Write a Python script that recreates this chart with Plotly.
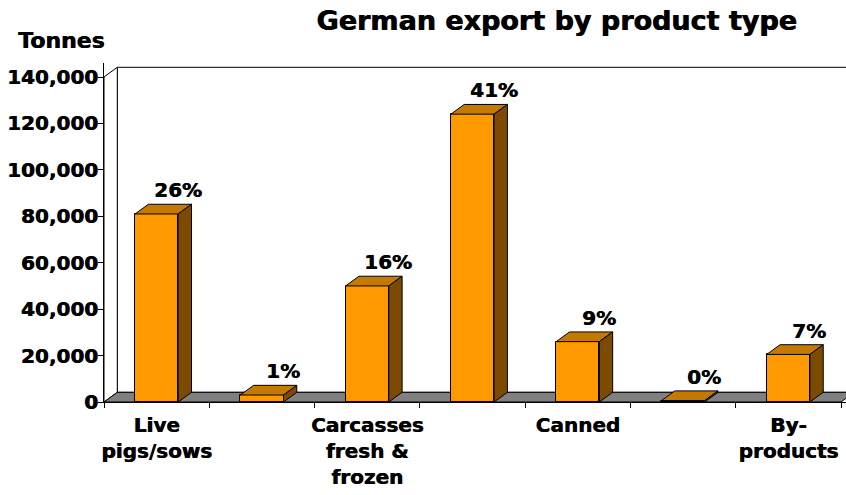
import plotly.graph_objects as go

# Export volumes by product type (tonnes) and their share of the total
categories = ["Live<br>pigs/sows", "", "Carcasses<br>fresh &<br>frozen", "", "Canned", "", "By-<br>products"]
tonnes = [81000, 3000, 50000, 124000, 26000, 600, 20500]
share_labels = ["26%", "1%", "16%", "41%", "9%", "0%", "7%"]
y_tick_values = [0, 20000, 40000, 60000, 80000, 100000, 120000, 140000]

# Pseudo-3D styling
FRONT = "#FF9900"
TOP = "#C47A00"
SIDE = "#7C4A00"
FLOOR = "#808080"
DEPTH_X = 0.1263      # depth offset along x (category units)
DEPTH_Y = 4180        # depth offset along y (tonnes)
HALF = 0.205          # half bar width (category units)
Y_MAX = 140000

HEAVY = "0.6px 0 0 black"
FONT = dict(family="DejaVu Sans", size=20, color="black", weight="bold", shadow=HEAVY)

x_pos = list(range(len(tonnes)))
n = len(tonnes)

fig = go.Figure()

# front faces
fig.add_trace(go.Bar(
    x=x_pos, y=tonnes, width=2 * HALF,
    marker=dict(color=FRONT, line=dict(color="black", width=1)),
    hoverinfo="skip", showlegend=False,
))

# top and side faces
for i, v in zip(x_pos, tonnes):
    fig.add_trace(go.Scatter(
        x=[i - HALF, i + HALF, i + HALF + DEPTH_X, i - HALF + DEPTH_X, i - HALF],
        y=[v, v, v + DEPTH_Y, v + DEPTH_Y, v],
        mode="lines", fill="toself", fillcolor=TOP,
        line=dict(color="black", width=1), hoverinfo="skip", showlegend=False,
    ))
    fig.add_trace(go.Scatter(
        x=[i + HALF, i + HALF, i + HALF + DEPTH_X, i + HALF + DEPTH_X, i + HALF],
        y=[0, v, v + DEPTH_Y, DEPTH_Y, 0],
        mode="lines", fill="toself", fillcolor=SIDE,
        line=dict(color="black", width=1), hoverinfo="skip", showlegend=False,
    ))

# share labels above each bar
for i, v, lab in zip(x_pos, tonnes, share_labels):
    fig.add_annotation(
        x=i + 0.2, y=v + DEPTH_Y, text=lab, showarrow=False,
        xanchor="center", yanchor="bottom", yshift=0, font=FONT,
    )

# walls and floor of the chart box
x_left, x_right = -0.5, n - 0.5
shapes = [
    dict(type="rect", layer="below", xref="x", yref="y",
         x0=x_left + DEPTH_X, x1=x_right + DEPTH_X, y0=DEPTH_Y, y1=Y_MAX + DEPTH_Y,
         fillcolor="white", line=dict(color="black", width=1)),
    dict(type="path", layer="below", xref="x", yref="y",
         path=f"M {x_left} 0 L {x_left} {Y_MAX} L {x_left + DEPTH_X} {Y_MAX + DEPTH_Y} "
              f"L {x_left + DEPTH_X} {DEPTH_Y} Z",
         fillcolor="white", line=dict(color="black", width=1)),
    dict(type="path", layer="below", xref="x", yref="y",
         path=f"M {x_left} 0 L {x_right} 0 L {x_right + DEPTH_X} {DEPTH_Y} "
              f"L {x_left + DEPTH_X} {DEPTH_Y} Z",
         fillcolor=FLOOR, line=dict(color="black", width=1)),
]

px_per_cat = (841 - 104) / 7
plot_w = 846 - 104
px_per_tonne = 325 / Y_MAX
plot_h = 402 - 63

fig.update_layout(
    width=846, height=495,
    margin=dict(l=104, r=0, t=63, b=93, pad=0),
    paper_bgcolor="white", plot_bgcolor="white",
    shapes=shapes,
    bargap=0,
    title=dict(
        text="German export by product type",
        font=dict(family="DejaVu Sans", size=27, color="black", weight="bold",
                  shadow="0.8px 0 0 black"),
        xref="container", yref="container",
        x=556.5 / 846, xanchor="center", y=1 - 21 / 495, yanchor="middle",
    ),
    xaxis=dict(
        range=[x_left, x_left + plot_w / px_per_cat],
        tickmode="array", tickvals=x_pos, ticktext=categories,
        ticks="", tickfont=FONT, ticklabelstandoff=5,
        showline=True, linecolor="black", linewidth=1,
        showgrid=False, zeroline=False,
        minor=dict(tickmode="array", tickvals=[x_left + k for k in range(n + 1)],
                   ticks="outside", ticklen=5, tickcolor="black", tickwidth=1,
                   showgrid=False),
    ),
    yaxis=dict(
        range=[0, plot_h / px_per_tonne],
        tickmode="array", tickvals=y_tick_values, tickformat=",",
        ticks="outside", ticklen=5, tickcolor="black", tickfont=FONT,
        ticklabelstandoff=-4,
        showline=True, linecolor="black", linewidth=1,
        showgrid=False, zeroline=False,
    ),
    annotations=list(fig.layout.annotations) + [
        dict(text="Tonnes", xref="paper", yref="paper",
             x=(16 - 104) / plot_w, y=(402 - 40) / plot_h,
             xanchor="left", yanchor="middle", showarrow=False,
             font=dict(family="DejaVu Sans", size=22, color="black", weight="bold",
                       shadow=HEAVY)),
    ],
)

fig.write_html("out.html")
